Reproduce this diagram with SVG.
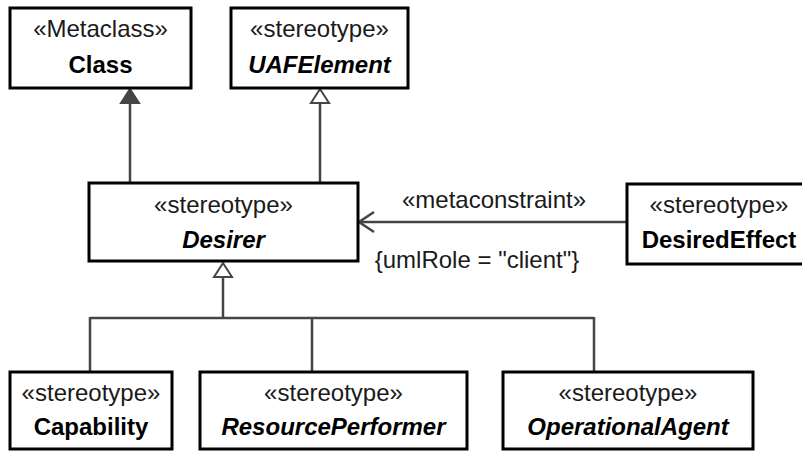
<svg xmlns="http://www.w3.org/2000/svg" width="802" height="451" viewBox="0 0 802 451">
<style>
  .box { fill: #ffffff; stroke: #000000; stroke-width: 3; }
  .st { font-family: "Liberation Sans", Arial, sans-serif; font-size: 24px; fill: #1a1a1a; text-anchor: middle; }
  .nm { font-family: "Liberation Sans", Arial, sans-serif; font-size: 24px; font-weight: bold; fill: #000000; text-anchor: middle; }
  .it { font-style: italic; }
  .lbl { font-family: "Liberation Sans", Arial, sans-serif; font-size: 24px; fill: #1a1a1a; text-anchor: middle; }
  .ln { stroke: #454545; stroke-width: 2.5; fill: none; }
  .tri { stroke: #454545; stroke-width: 2; fill: #ffffff; }
  .trif { stroke: #454545; stroke-width: 2; fill: #454545; }
</style>
<rect width="802" height="451" fill="#ffffff"/>
<g id="connectors">
  <line class="ln" x1="130" y1="183" x2="130" y2="102"/>
  <polygon class="trif" points="130,89 121,103 139,103"/>
  <line class="ln" x1="320" y1="183" x2="320" y2="102"/>
  <polygon class="tri" points="320,89 311,103 329,103"/>
  <line class="ln" x1="627" y1="222" x2="359" y2="222"/>
  <polyline class="ln" points="374,212 359,222 374,232"/>
  <polygon class="tri" points="223,263 214,277 232,277"/>
  <line class="ln" x1="223" y1="277" x2="223" y2="318"/>
  <line class="ln" x1="90" y1="318" x2="594" y2="318"/>
  <line class="ln" x1="90" y1="317" x2="90" y2="372"/>
  <line class="ln" x1="312" y1="317" x2="312" y2="372"/>
  <line class="ln" x1="594" y1="317" x2="594" y2="372"/>
  <text class="lbl" x="494" y="208">«metaconstraint»</text>
  <text class="lbl" x="477" y="268">{umlRole = "client"}</text>
</g>
<g id="class">
  <rect class="box" x="10" y="8" width="181" height="80"/>
  <text class="st" x="100.5" y="37">«Metaclass»</text>
  <text class="nm" x="100.5" y="73">Class</text>
</g>
<g id="uafelement">
  <rect class="box" x="231" y="8" width="177" height="80"/>
  <text class="st" x="319.5" y="37">«stereotype»</text>
  <text class="nm it" x="319.5" y="73">UAFElement</text>
</g>
<g id="desirer">
  <rect class="box" x="89" y="183" width="269" height="78"/>
  <text class="st" x="223.5" y="213">«stereotype»</text>
  <text class="nm it" x="223.5" y="248">Desirer</text>
</g>
<g id="desiredeffect">
  <rect class="box" x="627" y="184" width="184" height="80"/>
  <text class="st" x="719" y="213">«stereotype»</text>
  <text class="nm" x="719" y="248">DesiredEffect</text>
</g>
<g id="capability">
  <rect class="box" x="10" y="372" width="162" height="77"/>
  <text class="st" x="91" y="401">«stereotype»</text>
  <text class="nm" x="91" y="435">Capability</text>
</g>
<g id="resourceperformer">
  <rect class="box" x="200" y="372" width="267" height="77"/>
  <text class="st" x="333.5" y="401">«stereotype»</text>
  <text class="nm it" x="333.5" y="435">ResourcePerformer</text>
</g>
<g id="operationalagent">
  <rect class="box" x="503" y="372" width="250" height="77"/>
  <text class="st" x="628" y="401">«stereotype»</text>
  <text class="nm it" x="628" y="435">OperationalAgent</text>
</g>
</svg>
